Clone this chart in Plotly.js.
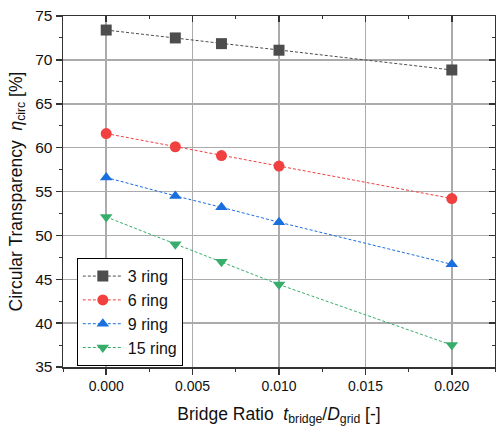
<!DOCTYPE html>
<html><head><meta charset="utf-8">
<script src="https://cdn.plot.ly/plotly-3.0.1.min.js"></script>
<style>body{margin:0;padding:0;background:#fff}#c{width:496px;height:429px}</style>
</head><body><div id="c"></div>
<script>
const xRatio = [0, 0.004, 0.00667, 0.01, 0.02];
const ring3 = [73.4, 72.5, 71.85, 71.1, 68.85];
const ring6 = [61.6, 60.1, 59.1, 57.9, 54.2];
const ring9 = [56.6, 54.5, 53.2, 51.5, 46.7];
const ring15 = [52.1, 49.0, 47.0, 44.4, 37.5];
const names = ['3 ring', '6 ring', '9 ring', '15 ring'];
const colors = ['#4d4d4d', '#F14040', '#1A6FDF', '#37AD6B'];
const symbols = ['square', 'circle', 'triangle-up', 'triangle-down'];
const series = [ring3, ring6, ring9, ring15];

const traces = series.map((s, i) => ({
  x: xRatio, y: s, name: names[i], type: 'scatter', mode: 'lines+markers',
  line: {color: colors[i], width: 1, dash: '3px,2px'},
  marker: {color: colors[i], symbol: symbols[i], size: 11}
}));
// mirror axes with inward ticks (no data drawn)
traces.push({x: [null], y: [null], xaxis: 'x2', yaxis: 'y2', showlegend: false, hoverinfo: 'skip', mode: 'markers'});

const axLine = '#333333';
const gridC = '#ababab';
const fnt = {family: 'Liberation Sans, Arial, sans-serif', color: '#111'};

const layout = {
  width: 496, height: 429,
  margin: {l: 63, r: 1, t: 16, b: 62},
  paper_bgcolor: '#fff', plot_bgcolor: '#fff',
  font: fnt,
  showlegend: true,
  legend: {x: 0.032, y: 0.31, xanchor: 'left', yanchor: 'top', bordercolor: '#000', borderwidth: 1,
           bgcolor: '#fff', font: {size: 16, family: fnt.family, color: '#111'}, tracegroupgap: 0, itemwidth: 40},
  xaxis: {
    range: [-0.0025, 0.0225], tickvals: [0, 0.005, 0.01, 0.015, 0.02],
    ticktext: ['0.000', '0.005', '0.010', '0.015', '0.020'],
    ticks: 'outside', ticklen: 6, tickwidth: 1.5, tickcolor: axLine,
    showline: true, linecolor: axLine, linewidth: 1.5,
    showgrid: true, gridcolor: gridC, gridwidth: 1.5, zeroline: false,
    minor: {dtick: 0.0025, tick0: 0, ticks: 'outside', ticklen: 3, tickwidth: 1, tickcolor: axLine, showgrid: false},
    tickfont: {size: 14, family: fnt.family, color: '#111'},
    title: {text: 'Bridge Ratio  <i>t</i><sub>bridge</sub>/<i>D</i><sub>grid</sub> [-]', font: {size: 17.5, family: fnt.family, color: '#111'}, standoff: 14}
  },
  yaxis: {
    range: [35, 75], dtick: 5, tick0: 35,
    ticks: 'outside', ticklen: 6, tickwidth: 1.5, tickcolor: axLine,
    showline: true, linecolor: axLine, linewidth: 1.5,
    showgrid: true, gridcolor: gridC, gridwidth: 1.5, zeroline: false,
    minor: {dtick: 2.5, tick0: 35, ticks: 'outside', ticklen: 3, tickwidth: 1, tickcolor: axLine, showgrid: false},
    tickfont: {size: 15.5, family: fnt.family, color: '#111'},
    title: {text: 'Circular Transparency  <i>η</i><sub>circ</sub> [%]', font: {size: 17.5, family: fnt.family, color: '#111'}, standoff: 8}
  },
  xaxis2: {
    overlaying: 'x', side: 'top', anchor: 'y2', matches: 'x', range: [-0.0025, 0.0225],
    tickvals: [0, 0.005, 0.01, 0.015, 0.02], showticklabels: false,
    ticks: 'inside', ticklen: 6, tickwidth: 1.5, tickcolor: axLine,
    showline: true, linecolor: axLine, linewidth: 1.5, showgrid: false, zeroline: false,
    minor: {dtick: 0.0025, tick0: 0, ticks: 'inside', ticklen: 3, tickwidth: 1, tickcolor: axLine, showgrid: false}
  },
  yaxis2: {
    overlaying: 'y', side: 'right', anchor: 'x2', range: [35, 75], dtick: 5, tick0: 35, showticklabels: false,
    ticks: 'inside', ticklen: 6, tickwidth: 1.5, tickcolor: axLine,
    showline: true, linecolor: axLine, linewidth: 1.5, showgrid: false, zeroline: false,
    minor: {dtick: 2.5, tick0: 35, ticks: 'inside', ticklen: 3, tickwidth: 1, tickcolor: axLine, showgrid: false}
  }
};
Plotly.newPlot('c', traces, layout, {displayModeBar: false, staticPlot: true});
</script></body></html>
